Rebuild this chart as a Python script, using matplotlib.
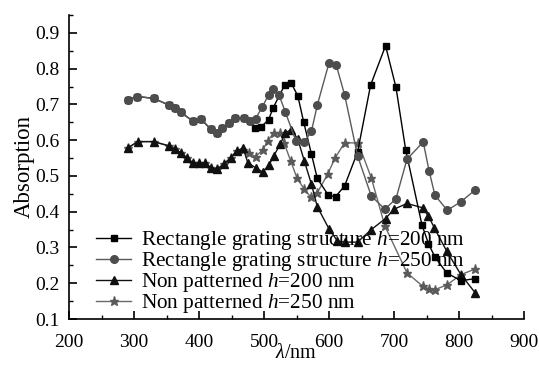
import matplotlib
matplotlib.use("Agg")
import matplotlib.pyplot as plt
from matplotlib.ticker import MultipleLocator

plt.rcParams['font.family'] = ['Liberation Serif', 'DejaVu Serif']
plt.rcParams['mathtext.fontset'] = 'custom'
plt.rcParams['mathtext.it'] = 'Liberation Serif:italic'
plt.rcParams['mathtext.rm'] = 'Liberation Serif'

# Rectangle grating structure h=200 nm (squares)
rect200_x = [291, 305, 330, 354, 363, 372, 390, 403, 418, 428, 436, 446, 456, 469, 478,
             486, 496, 507, 514, 532, 542, 552, 561, 573, 582, 599, 610, 624, 644, 664,
             687, 703, 718, 743, 753, 763, 781, 803, 825]
rect200_y = [0.713, 0.722, 0.717, 0.698, 0.691, 0.678, 0.654, 0.659, 0.631, 0.619, 0.633, 0.647, 0.662, 0.662, 0.654,
             0.633, 0.638, 0.657, 0.690, 0.755, 0.759, 0.724, 0.651, 0.561, 0.493, 0.446, 0.442, 0.472, 0.567, 0.754,
             0.864, 0.748, 0.573, 0.363, 0.311, 0.273, 0.229, 0.207, 0.213]

# Rectangle grating structure h=250 nm (circles)
rect250_x = [291, 305, 330, 354, 363, 372, 390, 403, 418, 428, 436, 446, 456, 469, 478,
             487, 497, 507, 514, 523, 533, 549, 562, 573, 582, 600, 611, 624, 644, 665, 686,
             703, 720, 745, 754, 763, 782, 803, 825]
rect250_y = [0.713, 0.722, 0.717, 0.698, 0.691, 0.678, 0.654, 0.659, 0.631, 0.619, 0.633, 0.647, 0.662, 0.662, 0.654,
             0.660, 0.692, 0.726, 0.743, 0.727, 0.678, 0.598, 0.595, 0.625, 0.698, 0.816, 0.811, 0.727, 0.556, 0.444, 0.407,
             0.436, 0.547, 0.595, 0.514, 0.446, 0.404, 0.428, 0.461]

# Non patterned h=200 nm (triangles)
np200_x = [291, 306, 330, 354, 363, 372, 381, 390, 400, 409, 418, 428, 438, 449, 458, 468,
           475, 487, 498, 508, 515, 525, 533, 542, 552, 562, 573, 582, 600, 613, 624, 644,
           665, 687, 700, 720, 744, 753, 762, 781, 803, 825]
np200_y = [0.579, 0.596, 0.596, 0.584, 0.575, 0.565, 0.551, 0.537, 0.536, 0.537, 0.523, 0.519, 0.533, 0.551, 0.570, 0.578,
           0.537, 0.523, 0.511, 0.531, 0.556, 0.589, 0.621, 0.629, 0.603, 0.542, 0.477, 0.414, 0.352, 0.318, 0.315, 0.315,
           0.350, 0.381, 0.407, 0.423, 0.411, 0.388, 0.355, 0.290, 0.224, 0.173]

# Non patterned h=250 nm (stars)
np250_x = [291, 306, 330, 354, 363, 372, 381, 390, 400, 409, 418, 428, 438, 449, 458,
           467, 477, 487, 498, 506, 515, 525, 531, 541, 551, 562, 572, 582, 598, 609, 624,
           645, 665, 686, 720, 744, 754, 763, 782, 803, 825]
np250_y = [0.579, 0.596, 0.596, 0.584, 0.575, 0.565, 0.551, 0.537, 0.536, 0.537, 0.523, 0.519, 0.533, 0.551, 0.570,
           0.572, 0.565, 0.554, 0.573, 0.598, 0.621, 0.621, 0.592, 0.542, 0.493, 0.463, 0.441, 0.453, 0.505, 0.549, 0.593,
           0.592, 0.495, 0.360, 0.229, 0.192, 0.184, 0.182, 0.196, 0.224, 0.240]

labels = [r'Rectangle grating structure $h$=200 nm',
          r'Rectangle grating structure $h$=250 nm',
          r'Non patterned $h$=200 nm',
          r'Non patterned $h$=250 nm']

fig = plt.figure(figsize=(5.39, 3.65), dpi=100)
ax = fig.add_axes([69/539, 1-319/365, (524-69)/539, (319-15)/365])

ax.plot(np250_x, np250_y, color='#6a6a6a', lw=1.0, marker='*', ms=6.5,
        mfc='#5a5a5a', mec='#5a5a5a', label=labels[3], zorder=2)
ax.plot(np200_x, np200_y, color='#111111', lw=1.0, marker='^', ms=5.5,
        mfc='#111111', mec='#111111', label=labels[2], zorder=3)
ax.plot(rect250_x, rect250_y, color='#5a5a5a', lw=1.0, marker='o', ms=5.5,
        mfc='#4d4d4d', mec='#4d4d4d', label=labels[1], zorder=4)
ax.plot(rect200_x, rect200_y, color='#000000', lw=1.0, marker='s', ms=5,
        mfc='#000000', mec='#000000', label=labels[0], zorder=3.5)

ax.set_xlim(200, 900)
ax.set_ylim(0.1, 0.95)
ax.xaxis.set_major_locator(MultipleLocator(100))
ax.xaxis.set_minor_locator(MultipleLocator(50))
ax.yaxis.set_major_locator(MultipleLocator(0.1))
ax.yaxis.set_minor_locator(MultipleLocator(0.05))
ax.spines['top'].set_visible(False)
ax.spines['right'].set_visible(False)
for s in ('left', 'bottom'):
    ax.spines[s].set_linewidth(1.2)
ax.tick_params(which='major', direction='in', length=6, width=1.2, labelsize=14)
ax.tick_params(axis='x', which='major', pad=11)
ax.tick_params(axis='y', which='major', pad=7)
ax.tick_params(which='minor', direction='in', length=3, width=1.0)
ax.set_yticks([0.1, 0.2, 0.3, 0.4, 0.5, 0.6, 0.7, 0.8, 0.9])
ax.set_yticklabels(['0.1', '0.2', '0.3', '0.4', '0.5', '0.6', '0.7', '0.8', '0.9'])

ax.set_xlabel(r'$\lambda$/nm', fontsize=14.5, labelpad=-5)
ax.set_ylabel('Absorption', fontsize=16.5, labelpad=0)

handles, labs = ax.get_legend_handles_labels()
order = [3, 2, 1, 0]
leg = ax.legend([handles[i] for i in order], [labs[i] for i in order],
                loc='lower left', bbox_to_anchor=(96/539, 1-315/365), bbox_transform=fig.transFigure,
                frameon=False, fontsize=15.3, handlelength=1.65, handletextpad=0.45,
                labelspacing=-0.1, borderpad=0, borderaxespad=0)

fig.savefig('out.png', dpi=100)
